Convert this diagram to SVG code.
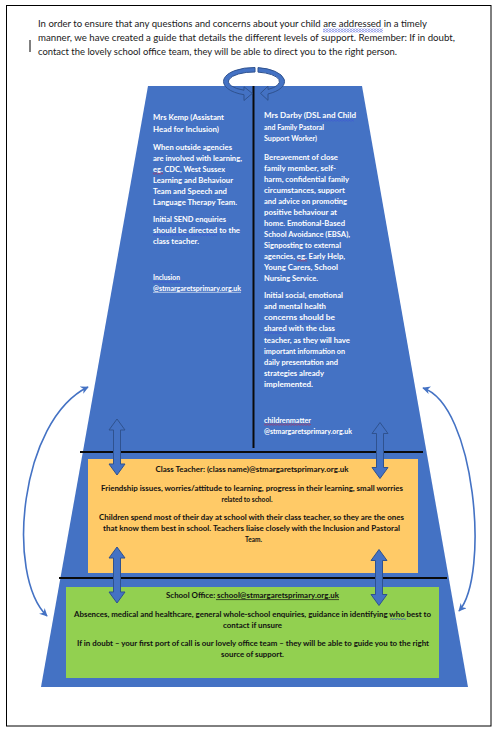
<svg xmlns="http://www.w3.org/2000/svg" width="497" height="734" viewBox="0 0 497 734">
<style>
.top{font-family:Lato,"Liberation Sans",sans-serif;font-size:10.2px;fill:#1a1a1a}
.col{font-family:Lato,"Liberation Sans",sans-serif;font-weight:bold;font-size:7.5px;fill:#ffffff}
.box{font-family:Lato,"Liberation Sans",sans-serif;font-weight:bold;font-size:7.5px;fill:#111111;text-anchor:middle}
.rule{stroke:#0a0a0a;stroke-width:2}
.dbl{fill:#4472C4;stroke:#2F528F;stroke-width:1}
.side{fill:none;stroke:#4472C4;stroke-width:1.6}
</style>
<defs>
<pattern id="wb" width="3" height="2" patternUnits="userSpaceOnUse"><path d="M0 1.6 L1.5 0.4 L3 1.6" fill="none" stroke="#3b4fd8" stroke-width="0.7"/></pattern>
<pattern id="wr" width="3" height="2" patternUnits="userSpaceOnUse"><path d="M0 1.6 L1.5 0.4 L3 1.6" fill="none" stroke="#d02040" stroke-width="0.7"/></pattern>
<marker id="ah" viewBox="0 0 10 10" refX="9" refY="5" markerWidth="8" markerHeight="8" markerUnits="userSpaceOnUse" orient="auto-start-reverse"><path d="M0 0 L10 5 L0 10 L3 5 Z" fill="#4472C4"/></marker>
<path id="dblArrow" d="M0 0 L8 11 L3.5 11 L3.5 45 L8 45 L0 56 L-8 45 L-3.5 45 L-3.5 11 L-8 11 Z"/>
</defs>
<rect x="0" y="0" width="497" height="734" fill="#ffffff"/>
<rect x="6.5" y="5.5" width="484.5" height="720.5" fill="none" stroke="#000" stroke-width="1"/>
<line x1="30" y1="40" x2="30" y2="52" stroke="#000" stroke-width="1"/>

<g id="intro">
<text class="top" x="38" y="27" textLength="389" lengthAdjust="spacingAndGlyphs">In order to ensure that any questions and concerns about your child are addressed in a timely</text>
<text class="top" x="38" y="41" textLength="417" lengthAdjust="spacingAndGlyphs">manner, we have created a guide that details the different levels of support.  Remember: If in doubt,</text>
<text class="top" x="38" y="54.5" textLength="359" lengthAdjust="spacingAndGlyphs">contact the lovely school office team, they will be able to direct you to the right person.</text>
<rect x="323" y="28.5" width="60" height="2" fill="url(#wb)"/>
<rect x="323" y="30.5" width="60" height="2" fill="url(#wb)"/>
</g>

<g id="pyramid">
<polygon points="148,86 362,86 468,687 41,687" fill="#4472C4"/>
</g>

<g id="class-teacher">
<rect x="88" y="459" width="330" height="114" fill="#FFCA67"/>
<text class="box" x="252" y="472" textLength="193" lengthAdjust="spacingAndGlyphs">Class Teacher: (class name)@stmargaretsprimary.org.uk</text>
<text class="box" x="252" y="491" textLength="302" lengthAdjust="spacingAndGlyphs">Friendship issues, worries/attitude to learning, progress in their learning, small worries</text>
<text class="box" x="247" y="502" textLength="51" lengthAdjust="spacingAndGlyphs">related to school.</text>
<text class="box" x="251.5" y="520" textLength="305" lengthAdjust="spacingAndGlyphs">Children spend most of their day at school with their class teacher, so they are the ones</text>
<text class="box" x="251.5" y="531" textLength="297" lengthAdjust="spacingAndGlyphs">that know them best in school.  Teachers liaise closely with the Inclusion and Pastoral</text>
<text class="box" x="253.5" y="542" textLength="17" lengthAdjust="spacingAndGlyphs">Team.</text>
</g>

<g id="school-office">
<rect x="66" y="587" width="373" height="91" fill="#92D050"/>
<text class="box" x="252.5" y="598" textLength="173" lengthAdjust="spacingAndGlyphs">School Office: school@stmargaretsprimary.org.uk</text>
<line x1="216" y1="599.6" x2="339" y2="599.6" stroke="#111" stroke-width="0.7"/>
<text class="box" x="252.5" y="617" textLength="357" lengthAdjust="spacingAndGlyphs">Absences, medical and healthcare, general whole-school enquiries, guidance in identifying who best to</text>
<rect x="390" y="618" width="16" height="2" fill="url(#wb)"/>
<text class="box" x="252.5" y="628" textLength="59" lengthAdjust="spacingAndGlyphs">contact if unsure</text>
<text class="box" x="253" y="646" textLength="352" lengthAdjust="spacingAndGlyphs">If in doubt – your first port of call is our lovely office team – they will be able to guide you to the right</text>
<text class="box" x="252.5" y="657" textLength="63" lengthAdjust="spacingAndGlyphs">source of support.</text>
</g>

<g id="mrs-kemp">
<text class="col" x="153" y="120" textLength="71" lengthAdjust="spacingAndGlyphs">Mrs Kemp (Assistant</text>
<text class="col" x="153" y="132" textLength="66" lengthAdjust="spacingAndGlyphs">Head for Inclusion)</text>
<text class="col" x="153" y="149.5" textLength="79" lengthAdjust="spacingAndGlyphs">When outside agencies</text>
<text class="col" x="153" y="160.5" textLength="89" lengthAdjust="spacingAndGlyphs">are involved with learning,</text>
<text class="col" x="153" y="171.5" textLength="72" lengthAdjust="spacingAndGlyphs">eg. CDC, West Sussex</text>
<text class="col" x="153" y="182.5" textLength="80" lengthAdjust="spacingAndGlyphs">Learning and Behaviour</text>
<text class="col" x="153" y="193.5" textLength="74" lengthAdjust="spacingAndGlyphs">Team and Speech and</text>
<text class="col" x="153" y="204.5" textLength="84" lengthAdjust="spacingAndGlyphs">Language Therapy Team.</text>
<text class="col" x="153" y="222" textLength="73" lengthAdjust="spacingAndGlyphs">Initial SEND enquiries</text>
<text class="col" x="153" y="233" textLength="87" lengthAdjust="spacingAndGlyphs">should be directed to the</text>
<text class="col" x="153" y="244" textLength="46" lengthAdjust="spacingAndGlyphs">class teacher.</text>
<text class="col" x="153" y="280" textLength="27" lengthAdjust="spacingAndGlyphs">Inclusion</text>
<text class="col" x="153" y="290.5" textLength="88" lengthAdjust="spacingAndGlyphs">@stmargaretsprimary.org.uk</text>
<line x1="153" y1="292.3" x2="241" y2="292.3" stroke="#ffffff" stroke-width="0.6"/>
<rect x="153" y="172.5" width="10" height="2" fill="url(#wr)"/>
<rect x="153" y="234" width="64" height="2" fill="url(#wb)"/>
<rect x="153" y="281" width="27" height="2" fill="url(#wb)"/>
</g>

<g id="mrs-darby">
<text class="col" x="264" y="118" textLength="92" lengthAdjust="spacingAndGlyphs">Mrs Darby (DSL and Child</text>
<text class="col" x="264" y="129.5" textLength="60" lengthAdjust="spacingAndGlyphs">and Family Pastoral</text>
<text class="col" x="264" y="141" textLength="53" lengthAdjust="spacingAndGlyphs">Support Worker)</text>
<text class="col" x="264" y="159.5" textLength="74" lengthAdjust="spacingAndGlyphs">Bereavement of close</text>
<text class="col" x="264" y="170.5" textLength="72" lengthAdjust="spacingAndGlyphs">family member, self-</text>
<text class="col" x="264" y="181.5" textLength="85" lengthAdjust="spacingAndGlyphs">harm, confidential family</text>
<text class="col" x="264" y="192.5" textLength="81" lengthAdjust="spacingAndGlyphs">circumstances, support</text>
<text class="col" x="264" y="203.5" textLength="83" lengthAdjust="spacingAndGlyphs">and advice on promoting</text>
<text class="col" x="264" y="214.5" textLength="73" lengthAdjust="spacingAndGlyphs">positive behaviour at</text>
<text class="col" x="264" y="225.5" textLength="81" lengthAdjust="spacingAndGlyphs">home. Emotional-Based</text>
<text class="col" x="264" y="236.5" textLength="86" lengthAdjust="spacingAndGlyphs">School Avoidance (EBSA),</text>
<text class="col" x="264" y="247.5" textLength="77" lengthAdjust="spacingAndGlyphs">Signposting to external</text>
<text class="col" x="264" y="258.5" textLength="81" lengthAdjust="spacingAndGlyphs">agencies, eg. Early Help,</text>
<text class="col" x="264" y="269.5" textLength="74" lengthAdjust="spacingAndGlyphs">Young Carers, School</text>
<text class="col" x="264" y="280.5" textLength="54" lengthAdjust="spacingAndGlyphs">Nursing Service.</text>
<text class="col" x="264" y="297.5" textLength="79" lengthAdjust="spacingAndGlyphs">Initial social, emotional</text>
<text class="col" x="264" y="308.5" textLength="62" lengthAdjust="spacingAndGlyphs">and mental health</text>
<text class="col" x="264" y="319.5" textLength="71" lengthAdjust="spacingAndGlyphs">concerns should be</text>
<text class="col" x="264" y="331" textLength="71" lengthAdjust="spacingAndGlyphs">shared with the class</text>
<text class="col" x="264" y="342.5" textLength="86" lengthAdjust="spacingAndGlyphs">teacher, as they will have</text>
<text class="col" x="264" y="353.5" textLength="81" lengthAdjust="spacingAndGlyphs">important information on</text>
<text class="col" x="264" y="364.5" textLength="74" lengthAdjust="spacingAndGlyphs">daily presentation and</text>
<text class="col" x="264" y="375.5" textLength="60" lengthAdjust="spacingAndGlyphs">strategies already</text>
<text class="col" x="264" y="386.5" textLength="49" lengthAdjust="spacingAndGlyphs">implemented.</text>
<text class="col" x="264" y="422.5" textLength="47" lengthAdjust="spacingAndGlyphs">childrenmatter</text>
<text class="col" x="264" y="433.5" textLength="88" lengthAdjust="spacingAndGlyphs">@stmargaretsprimary.org.uk</text>
<rect x="306" y="119.5" width="48" height="2" fill="url(#wb)"/>
<rect x="297" y="259.5" width="10" height="2" fill="url(#wr)"/>
<rect x="297" y="320.5" width="36" height="2" fill="url(#wb)"/>
<rect x="264" y="332" width="23" height="2" fill="url(#wb)"/>
<rect x="264" y="423.5" width="47" height="2" fill="url(#wr)"/>
</g>

<g id="connectors">
<line class="rule" x1="253.5" y1="86" x2="253.5" y2="448"/>
<line class="rule" x1="80" y1="452" x2="423" y2="452"/>
<line class="rule" x1="59" y1="578" x2="447" y2="578"/>
<use href="#dblArrow" class="dbl" transform="translate(117,419)"/>
<use href="#dblArrow" class="dbl" transform="translate(380,422.5)"/>
<use href="#dblArrow" class="dbl" transform="translate(117,547)"/>
<use href="#dblArrow" class="dbl" transform="translate(379,549.5)"/>
<path class="side" d="M88 387 C20 420 5 575 47 616" marker-start="url(#ah)" marker-end="url(#ah)"/>
<path class="side" d="M423 388 C475 405 490 575 459 611" marker-start="url(#ah)" marker-end="url(#ah)"/>
<path d="M255 67.51 A30.5 14 0 0 0 244 94.73 L244 100.5 L252.3 93.4 L244 86.8 L244 90.24 A25.5 9.5 0 0 1 255 72.01 Z" fill="#4472C4" stroke="#2F528F" stroke-width="1"/>
<path d="M258 67.62 A30.5 14 0 0 1 268 93.94 L268 100.3 L260.5 93.3 L268 86.2 L268 89.44 A25.5 9.5 0 0 0 258 72.12 Z" fill="#4472C4" stroke="#2F528F" stroke-width="1"/>
</g>
</svg>
